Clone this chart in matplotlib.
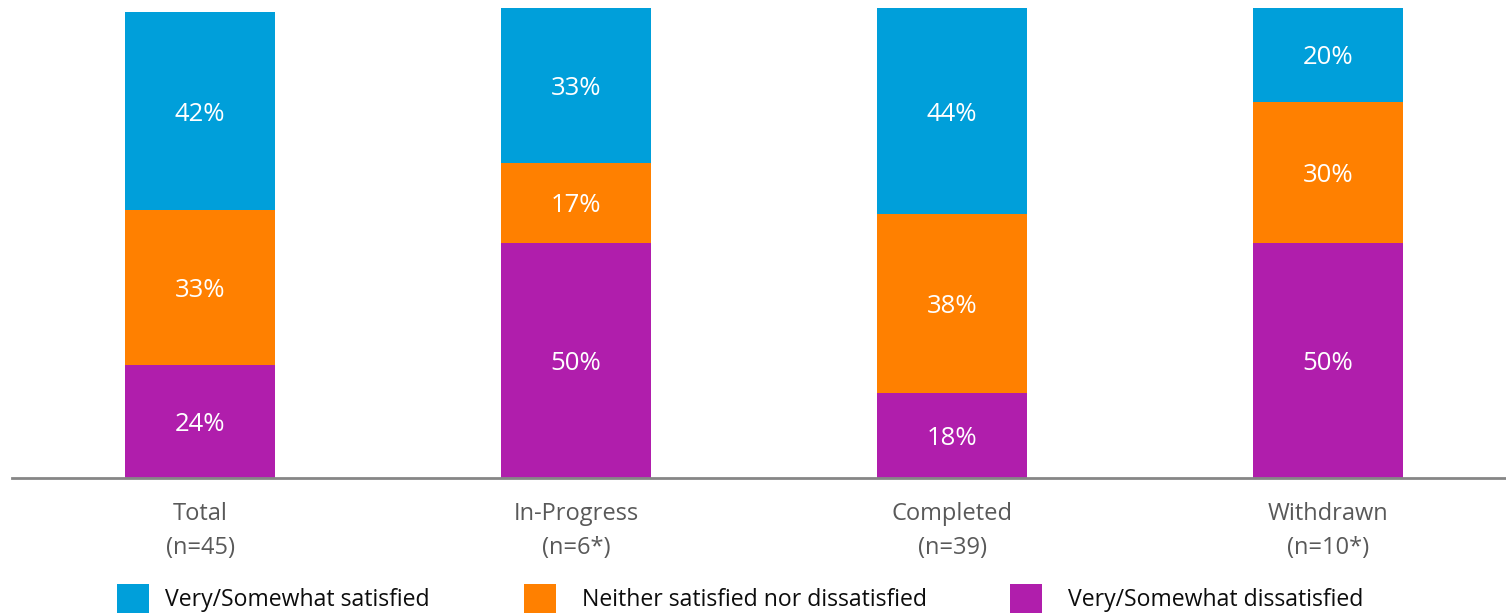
import matplotlib
matplotlib.use("Agg")
import matplotlib.pyplot as plt
import numpy as np

categories = ["Total", "In-Progress", "Completed", "Withdrawn"]
sample_sizes = ["(n=45)", "(n=6*)", "(n=39)", "(n=10*)"]
series_names = ["Very/Somewhat dissatisfied", "Neither satisfied nor dissatisfied",
                "Very/Somewhat satisfied"]
dissatisfied = [24, 50, 18, 50]
neutral = [33, 17, 38, 30]
satisfied = [42, 33, 44, 20]

colors = ["#B01EAC", "#FF8000", "#009FDA"]

plt.rcParams["font.family"] = ["Open Sans", "DejaVu Sans"]

W, H = 1506, 613
fig = plt.figure(figsize=(W / 100, H / 100), dpi=100)

# axes placed in pixel terms: baseline at y=477.5, left edge at x=12
base_px = 477.5
ax = fig.add_axes([12 / W, 1 - base_px / H, (W - 12) / W, base_px / H])
ax.set_xlim(-0.5, (W - 200) / 376)
ax.set_ylim(0, base_px / 4.697)

x = np.arange(len(categories))
width = 150 / 376
bottom = np.zeros(len(categories))
for vals, col in zip([dissatisfied, neutral, satisfied], colors):
    vals = np.array(vals, dtype=float)
    ax.bar(x, vals, width, bottom=bottom, color=col, linewidth=0)
    for xi, b, v in zip(x, bottom, vals):
        ax.annotate(f"{int(v)}%", xy=(xi, b + v / 2), xytext=(0, -3),
                    textcoords="offset pixels", ha="center", va="center",
                    color="white", fontsize=18.5)
    bottom += vals

for s in ["top", "right", "left"]:
    ax.spines[s].set_visible(False)
ax.spines["bottom"].set_color("#868686")
ax.spines["bottom"].set_linewidth(2)
ax.set_yticks([])
ax.set_xticks([])

for xi, cat, n in zip(x, categories, sample_sizes):
    ax.annotate(cat, xy=(xi, 0), xycoords="data", xytext=(0, -36),
                textcoords="offset pixels", ha="center", va="center",
                color="#595959", fontsize=17)
    ax.annotate(n, xy=(xi, 0), xycoords="data", xytext=(0, -70),
                textcoords="offset pixels", ha="center", va="center",
                color="#595959", fontsize=17)

# legend drawn as squares and labels along the bottom
legend_items = [(117, 165, colors[2], series_names[2]),
                (524, 582, colors[1], series_names[1]),
                (1010, 1068, colors[0], series_names[0])]
for sq_x, tx, col, label in legend_items:
    fig.patches.append(plt.Rectangle((sq_x / W, 1 - 613 / H), 32 / W, 29 / H,
                                     transform=fig.transFigure, color=col,
                                     linewidth=0))
    fig.text(tx / W, 1 - 600 / H, label, ha="left", va="center",
             color="#0D0D0D", fontsize=16.6)

fig.savefig("out.png", dpi=100)
